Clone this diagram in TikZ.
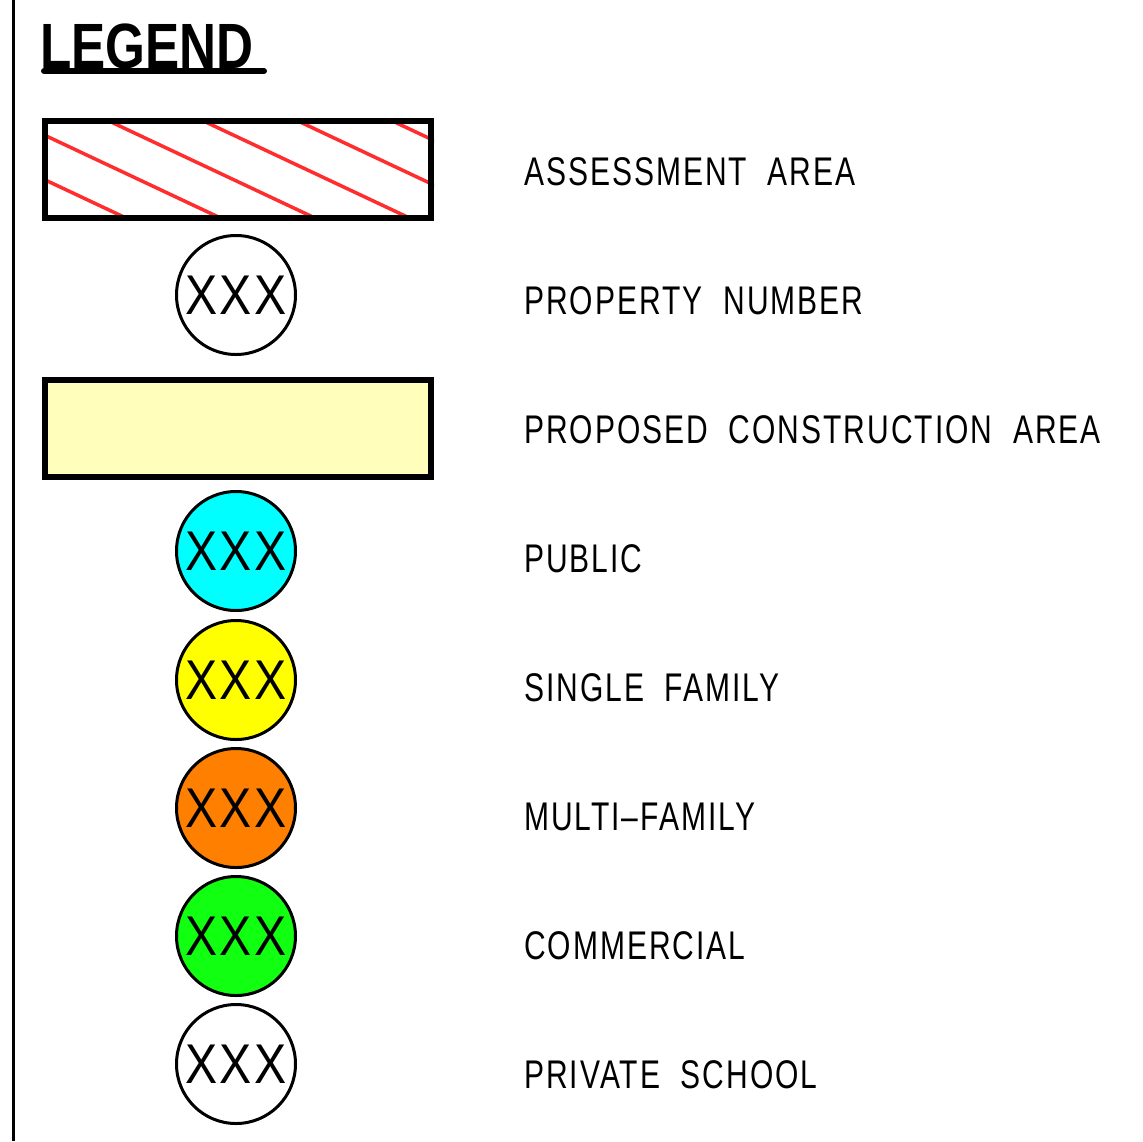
\documentclass[tikz,border=0pt]{standalone}
\usepackage{fontspec}
\setmainfont{Liberation Sans}
\newfontfamily\cadfont[FakeStretch=0.75,LetterSpace=5]{Liberation Sans}
\newfontfamily\cadmark[FakeStretch=0.86,LetterSpace=4]{Liberation Sans}
\newfontfamily\cadbold[FakeStretch=0.8]{Liberation Sans Bold}
\usetikzlibrary{positioning}

\definecolor{hatchred}{RGB}{255,45,45}
\definecolor{padyellow}{RGB}{255,255,187}
\definecolor{pubcyan}{RGB}{0,255,255}
\definecolor{sfyellow}{RGB}{255,255,0}
\definecolor{mforange}{RGB}{255,128,0}
\definecolor{comgreen}{RGB}{17,255,17}

\begin{document}
\begin{tikzpicture}[
    x=1pt, y=-1pt,
    legendbox/.style={draw, line width=6pt, minimum width=386pt, minimum height=97pt, inner sep=0pt},
    propcircle/.style={circle, draw, line width=3pt, minimum size=119pt, inner sep=0pt, font=\cadmark\fontsize{56}{56}\selectfont},
    legtext/.style={anchor=base west, inner sep=0pt, font=\cadfont\fontsize{40}{40}\selectfont}
  ]
    \useasboundingbox (0,0) rectangle (1143,1141);
    \draw[line width=3pt] (13,0) -- (13,1141);

    % title
    \node[anchor=base west, inner sep=0pt, font=\cadbold\fontsize{64}{64}\selectfont] (title) at (40,68) {LEGEND};
    \draw[line width=6pt, line cap=round] (44,71) -- (264,71);

    % assessment area
    \node[legendbox] (assess) at (238,169) {};
    \begin{scope}
      \clip (assess.south west) rectangle (assess.north east);
      \foreach \x in {-80,14.5,109,203.5,298,392.5} {
        \draw[hatchred, line width=3.5pt, line cap=round] (\x,121) -- ++(206,97);
      }
    \end{scope}
    \node[legendbox] at (assess) {};

    % symbols
    \node[propcircle] (propnum) at (236,295) {XXX};
    \node[legendbox, fill=padyellow] (constr) at (238,428) {};
    \node[propcircle, fill=pubcyan] (public) at (236,551) {XXX};
    \node[propcircle, fill=sfyellow] (single) at (236,680) {XXX};
    \node[propcircle, fill=mforange] (multi) at (236,808) {XXX};
    \node[propcircle, fill=comgreen] (comm) at (236,936) {XXX};
    \node[propcircle] (school) at (236,1064) {XXX};

    % labels
    \node[legtext] (lassess) at (524,185) {ASSESSMENT\ \ AREA};
    \node[legtext] (lpropnum) at (524,314) {PROPERTY\ \ NUMBER};
    \node[legtext] (lconstr) at (524,443) {PROPOSED\ \ CONSTRUCTION\ \ AREA};
    \node[legtext] (lpublic) at (524,572) {PUBLIC};
    \node[legtext] (lsingle) at (524,701) {SINGLE\ \ FAMILY};
    \node[legtext] (lmulti) at (524,830) {MULTI–FAMILY};
    \node[legtext] (lcomm) at (524,959) {COMMERCIAL};
    \node[legtext] (lschool) at (524,1088) {PRIVATE\ \ SCHOOL};
\end{tikzpicture}
\end{document}
